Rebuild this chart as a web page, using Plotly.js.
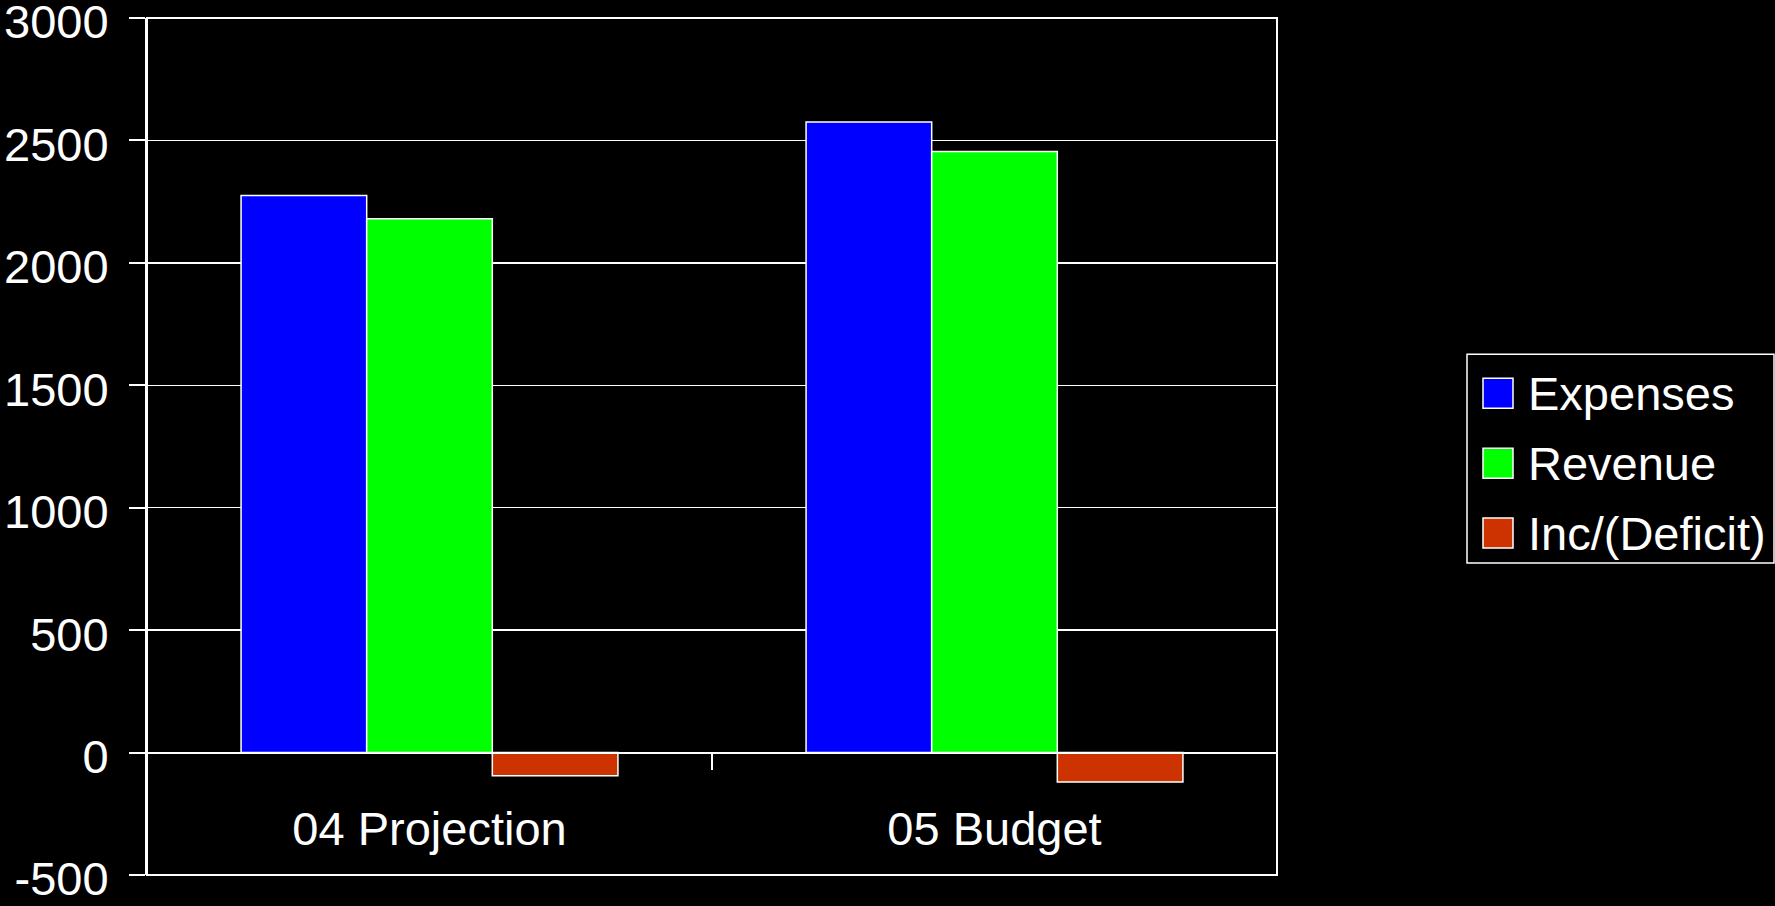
<!DOCTYPE html>
<html>
<head>
<meta charset="utf-8">
<script src="https://cdn.plot.ly/plotly-3.0.1.min.js"></script>
<style>html,body{margin:0;padding:0;background:#000;}#chart{width:1775px;height:906px;}</style>
</head>
<body>
<div id="chart"></div>
<script>
const categories = ['04 Projection', '05 Budget'];
const seriesNames = ['Expenses', 'Revenue', 'Inc/(Deficit)'];
const expenses = [2275, 2575];
const revenue = [2180, 2455];
const incDeficit = [-95, -120];
const yTickValues = [-500, 0, 500, 1000, 1500, 2000, 2500, 3000];
const yTickLabels = ['-500', '0', '500', '1000', '1500', '2000', '2500', '3000'];

const colors = ['#0000FF', '#00FF00', '#CC3300'];
const values = [expenses, revenue, incDeficit];
const FONT = 'Liberation Sans, Arial, sans-serif';
const FS = 47;

const W = 1775, H = 906;
const L = 147, R = 1277, T = 17.7, B = 875;
const px = x => (x - L) / (R - L);
const py = y => (B - y) / (B - T);

const traces = seriesNames.map((n, i) => ({
  type: 'bar', name: n, x: categories, y: values[i],
  marker: {color: colors[i], line: {color: '#ffffff', width: 1.5}},
  showlegend: false, hoverinfo: 'x+y+name'
}));

const shapes = [
  {type: 'rect', xref: 'paper', yref: 'paper', x0: 0, x1: 1, y0: 0, y1: 1,
   line: {color: '#ffffff', width: 2}, fillcolor: 'rgba(0,0,0,0)'},
  {type: 'rect', xref: 'paper', yref: 'paper', x0: px(1467), x1: px(1774), y0: py(354), y1: py(563),
   line: {color: '#ffffff', width: 1.5}, fillcolor: 'rgba(0,0,0,0)'}
];
const annotations = [];
const legY = [393, 463, 533];
seriesNames.forEach((n, i) => {
  shapes.push({type: 'rect', xref: 'paper', yref: 'paper',
    x0: px(1483), x1: px(1513), y0: py(legY[i] + 15), y1: py(legY[i] - 15),
    fillcolor: colors[i], line: {color: '#ffffff', width: 1.5}});
  annotations.push({xref: 'paper', yref: 'paper', x: px(1526), y: py(legY[i]),
    xanchor: 'left', yanchor: 'middle', showarrow: false, text: n,
    font: {family: FONT, size: FS, color: '#ffffff'}});
});

const layout = {
  width: W, height: H,
  paper_bgcolor: '#000000', plot_bgcolor: '#000000',
  margin: {l: L, r: W - R, t: T, b: H - B, pad: 0},
  showlegend: false,
  barmode: 'group', bargap: 0.333, bargroupgap: 0,
  font: {family: FONT, size: FS, color: '#ffffff'},
  xaxis: {
    type: 'category', anchor: 'free', position: 500 / 3500,
    showline: true, linecolor: '#ffffff', linewidth: 2,
    ticks: 'outside', tickson: 'boundaries', ticklen: 16, tickcolor: '#ffffff', tickwidth: 2,
    showgrid: false, ticklabelstandoff: 35,
    tickfont: {family: FONT, size: FS, color: '#ffffff'}
  },
  yaxis: {
    range: [-500, 3000], tickvals: yTickValues, ticktext: yTickLabels,
    showgrid: true, gridcolor: '#ffffff', gridwidth: 1.5,
    zeroline: true, zerolinecolor: '#ffffff', zerolinewidth: 1.5,
    ticks: 'outside', ticklen: 16, tickcolor: '#ffffff', tickwidth: 2,
    showline: true, linecolor: '#ffffff', linewidth: 2,
    ticklabelstandoff: 11, ticklabelshift: 4, ticklabeloverflow: 'allow',
    tickfont: {family: FONT, size: FS, color: '#ffffff'}
  },
  shapes: shapes, annotations: annotations
};

Plotly.newPlot('chart', traces, layout, {displayModeBar: false, staticPlot: true});
</script>
</body>
</html>
